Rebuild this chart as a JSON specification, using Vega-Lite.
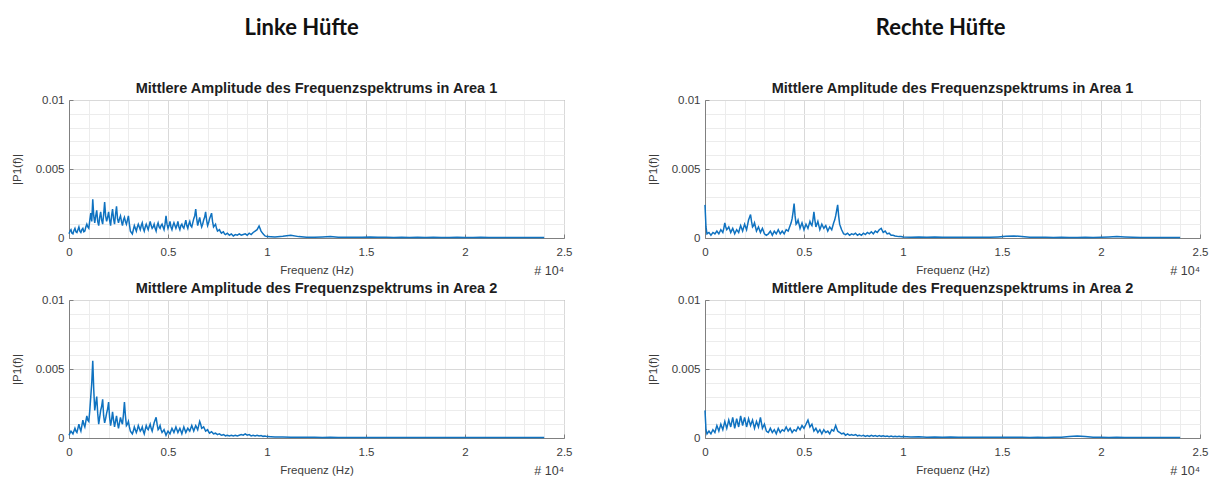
{
  "$schema": "https://vega.github.io/schema/vega-lite/v6.json",
  "background": "white",
  "padding": {"left": 10, "top": 17, "right": 0, "bottom": 0},
  "config": {
    "font": "Liberation Sans",
    "view": {"stroke": "#808080", "strokeWidth": 1},
    "axis": {
      "labelFont": "Liberation Sans", "labelFontSize": 11.5, "labelColor": "#3c3c3c",
      "titleFont": "Liberation Sans", "titleFontSize": 11.5, "titleColor": "#3c3c3c", "titleFontWeight": "normal",
      "domainColor": "#808080", "tickColor": "#808080", "labelOverlap": false, "labelFlush": false
    },
    "title": {"font": "Liberation Sans", "fontSize": 14.5, "fontWeight": "bold", "color": "#1e1e1e", "anchor": "middle", "frame": "group", "offset": -2}
  },
  "datasets": {
    "spec": [
      {"f":0.00,"l1":0.0003,"l2":0.0002,"r1":0.0024,"r2":0.0020},
      {"f":0.01,"l1":0.0006,"l2":0.0005,"r1":0.0003,"r2":0.0003},
      {"f":0.02,"l1":0.0003,"l2":0.0003,"r1":0.0004,"r2":0.0005},
      {"f":0.03,"l1":0.0007,"l2":0.0007,"r1":0.0002,"r2":0.0003},
      {"f":0.04,"l1":0.0004,"l2":0.0004,"r1":0.0004,"r2":0.0006},
      {"f":0.05,"l1":0.0008,"l2":0.0010,"r1":0.0003,"r2":0.0004},
      {"f":0.06,"l1":0.0004,"l2":0.0005,"r1":0.0005,"r2":0.0009},
      {"f":0.07,"l1":0.0007,"l2":0.0013,"r1":0.0003,"r2":0.0005},
      {"f":0.08,"l1":0.0005,"l2":0.0008,"r1":0.0006,"r2":0.0010},
      {"f":0.09,"l1":0.0010,"l2":0.0016,"r1":0.0004,"r2":0.0006},
      {"f":0.10,"l1":0.0007,"l2":0.0012,"r1":0.0011,"r2":0.0012},
      {"f":0.11,"l1":0.0018,"l2":0.0030,"r1":0.0006,"r2":0.0007},
      {"f":0.12,"l1":0.0028,"l2":0.0056,"r1":0.0008,"r2":0.0013},
      {"f":0.13,"l1":0.0011,"l2":0.0020,"r1":0.0004,"r2":0.0008},
      {"f":0.14,"l1":0.0020,"l2":0.0030,"r1":0.0007,"r2":0.0015},
      {"f":0.15,"l1":0.0009,"l2":0.0010,"r1":0.0003,"r2":0.0007},
      {"f":0.16,"l1":0.0019,"l2":0.0020,"r1":0.0006,"r2":0.0014},
      {"f":0.17,"l1":0.0010,"l2":0.0028,"r1":0.0004,"r2":0.0008},
      {"f":0.18,"l1":0.0026,"l2":0.0011,"r1":0.0009,"r2":0.0016},
      {"f":0.19,"l1":0.0012,"l2":0.0018,"r1":0.0005,"r2":0.0009},
      {"f":0.20,"l1":0.0019,"l2":0.0026,"r1":0.0010,"r2":0.0015},
      {"f":0.21,"l1":0.0009,"l2":0.0009,"r1":0.0006,"r2":0.0008},
      {"f":0.22,"l1":0.0021,"l2":0.0019,"r1":0.0013,"r2":0.0014},
      {"f":0.23,"l1":0.0010,"l2":0.0008,"r1":0.0017,"r2":0.0009},
      {"f":0.24,"l1":0.0023,"l2":0.0016,"r1":0.0008,"r2":0.0013},
      {"f":0.25,"l1":0.0011,"l2":0.0007,"r1":0.0011,"r2":0.0007},
      {"f":0.26,"l1":0.0016,"l2":0.0015,"r1":0.0005,"r2":0.0012},
      {"f":0.27,"l1":0.0009,"l2":0.0010,"r1":0.0008,"r2":0.0008},
      {"f":0.28,"l1":0.0015,"l2":0.0026,"r1":0.0004,"r2":0.0015},
      {"f":0.29,"l1":0.0010,"l2":0.0009,"r1":0.0007,"r2":0.0007},
      {"f":0.30,"l1":0.0016,"l2":0.0012,"r1":0.0003,"r2":0.0010},
      {"f":0.31,"l1":0.0005,"l2":0.0005,"r1":0.0002,"r2":0.0005},
      {"f":0.32,"l1":0.0003,"l2":0.0003,"r1":0.0003,"r2":0.0004},
      {"f":0.33,"l1":0.0009,"l2":0.0008,"r1":0.0005,"r2":0.0007},
      {"f":0.34,"l1":0.0005,"l2":0.0004,"r1":0.0002,"r2":0.0004},
      {"f":0.35,"l1":0.0010,"l2":0.0009,"r1":0.0005,"r2":0.0006},
      {"f":0.36,"l1":0.0006,"l2":0.0005,"r1":0.0003,"r2":0.0003},
      {"f":0.37,"l1":0.0011,"l2":0.0008,"r1":0.0006,"r2":0.0007},
      {"f":0.38,"l1":0.0005,"l2":0.0003,"r1":0.0003,"r2":0.0004},
      {"f":0.39,"l1":0.0010,"l2":0.0009,"r1":0.0005,"r2":0.0006},
      {"f":0.40,"l1":0.0006,"l2":0.0006,"r1":0.0003,"r2":0.0005},
      {"f":0.41,"l1":0.0012,"l2":0.0010,"r1":0.0006,"r2":0.0008},
      {"f":0.42,"l1":0.0007,"l2":0.0005,"r1":0.0005,"r2":0.0005},
      {"f":0.43,"l1":0.0010,"l2":0.0011,"r1":0.0009,"r2":0.0007},
      {"f":0.44,"l1":0.0005,"l2":0.0015,"r1":0.0014,"r2":0.0004},
      {"f":0.45,"l1":0.0011,"l2":0.0006,"r1":0.0025,"r2":0.0006},
      {"f":0.46,"l1":0.0007,"l2":0.0009,"r1":0.0010,"r2":0.0005},
      {"f":0.47,"l1":0.0010,"l2":0.0004,"r1":0.0013,"r2":0.0008},
      {"f":0.48,"l1":0.0006,"l2":0.0006,"r1":0.0007,"r2":0.0006},
      {"f":0.49,"l1":0.0016,"l2":0.0002,"r1":0.0011,"r2":0.0009},
      {"f":0.50,"l1":0.0007,"l2":0.0005,"r1":0.0006,"r2":0.0007},
      {"f":0.51,"l1":0.0012,"l2":0.0003,"r1":0.0010,"r2":0.0010},
      {"f":0.52,"l1":0.0006,"l2":0.0007,"r1":0.0007,"r2":0.0013},
      {"f":0.53,"l1":0.0011,"l2":0.0004,"r1":0.0012,"r2":0.0008},
      {"f":0.54,"l1":0.0007,"l2":0.0008,"r1":0.0009,"r2":0.0010},
      {"f":0.55,"l1":0.0012,"l2":0.0004,"r1":0.0019,"r2":0.0005},
      {"f":0.56,"l1":0.0006,"l2":0.0007,"r1":0.0008,"r2":0.0007},
      {"f":0.57,"l1":0.0010,"l2":0.0003,"r1":0.0012,"r2":0.0004},
      {"f":0.58,"l1":0.0007,"l2":0.0008,"r1":0.0006,"r2":0.0006},
      {"f":0.59,"l1":0.0013,"l2":0.0004,"r1":0.0010,"r2":0.0003},
      {"f":0.60,"l1":0.0007,"l2":0.0007,"r1":0.0007,"r2":0.0006},
      {"f":0.61,"l1":0.0012,"l2":0.0005,"r1":0.0009,"r2":0.0004},
      {"f":0.62,"l1":0.0008,"l2":0.0009,"r1":0.0005,"r2":0.0005},
      {"f":0.63,"l1":0.0014,"l2":0.0005,"r1":0.0008,"r2":0.0003},
      {"f":0.64,"l1":0.0021,"l2":0.0009,"r1":0.0006,"r2":0.0006},
      {"f":0.65,"l1":0.0009,"l2":0.0006,"r1":0.0011,"r2":0.0005},
      {"f":0.66,"l1":0.0015,"l2":0.0012,"r1":0.0016,"r2":0.0009},
      {"f":0.67,"l1":0.0008,"l2":0.0007,"r1":0.0024,"r2":0.0005},
      {"f":0.68,"l1":0.0013,"l2":0.0008,"r1":0.0010,"r2":0.0004},
      {"f":0.69,"l1":0.0019,"l2":0.0005,"r1":0.0006,"r2":0.0003},
      {"f":0.70,"l1":0.0009,"l2":0.0006,"r1":0.0003,"r2":0.00035},
      {"f":0.71,"l1":0.0014,"l2":0.00035,"r1":0.00025,"r2":0.0002},
      {"f":0.72,"l1":0.0018,"l2":0.00045,"r1":0.00035,"r2":0.0003},
      {"f":0.73,"l1":0.0008,"l2":0.0003,"r1":0.0002,"r2":0.0002},
      {"f":0.74,"l1":0.0010,"l2":0.00035,"r1":0.0003,"r2":0.00025},
      {"f":0.75,"l1":0.0005,"l2":0.00025,"r1":0.00025,"r2":0.0002},
      {"f":0.76,"l1":0.0006,"l2":0.0003,"r1":0.00035,"r2":0.00025},
      {"f":0.77,"l1":0.00035,"l2":0.0002,"r1":0.0002,"r2":0.00015},
      {"f":0.78,"l1":0.00045,"l2":0.00025,"r1":0.0003,"r2":0.0002},
      {"f":0.79,"l1":0.00025,"l2":0.00015,"r1":0.0002,"r2":0.00015},
      {"f":0.80,"l1":0.00035,"l2":0.0002,"r1":0.00035,"r2":0.0002},
      {"f":0.81,"l1":0.0002,"l2":0.00015,"r1":0.00025,"r2":0.00012},
      {"f":0.82,"l1":0.0003,"l2":0.0002,"r1":0.0004,"r2":0.00018},
      {"f":0.83,"l1":0.00015,"l2":0.00015,"r1":0.0003,"r2":0.00012},
      {"f":0.84,"l1":0.00025,"l2":0.0002,"r1":0.00045,"r2":0.0002},
      {"f":0.85,"l1":0.0002,"l2":0.00015,"r1":0.0003,"r2":0.00013},
      {"f":0.86,"l1":0.0003,"l2":0.0002,"r1":0.0005,"r2":0.00018},
      {"f":0.87,"l1":0.0002,"l2":0.00025,"r1":0.0004,"r2":0.00012},
      {"f":0.88,"l1":0.00025,"l2":0.0002,"r1":0.0006,"r2":0.00017},
      {"f":0.89,"l1":0.0003,"l2":0.0003,"r1":0.0007,"r2":0.00012},
      {"f":0.90,"l1":0.0002,"l2":0.0002,"r1":0.0004,"r2":0.00016},
      {"f":0.91,"l1":0.00035,"l2":0.00025,"r1":0.0005,"r2":0.00011},
      {"f":0.92,"l1":0.00025,"l2":0.00015,"r1":0.0003,"r2":0.00015},
      {"f":0.93,"l1":0.0004,"l2":0.0002,"r1":0.00035,"r2":0.0001},
      {"f":0.94,"l1":0.0005,"l2":0.00015,"r1":0.0002,"r2":0.00014},
      {"f":0.95,"l1":0.0006,"l2":0.0002,"r1":0.0002,"r2":0.0001},
      {"f":0.96,"l1":0.00087,"l2":0.00015,"r1":0.00015,"r2":0.00013},
      {"f":0.97,"l1":0.0005,"l2":0.00018,"r1":0.00012,"r2":0.00009},
      {"f":0.98,"l1":0.0003,"l2":0.00012,"r1":0.0001,"r2":0.00012},
      {"f":0.99,"l1":0.00015,"l2":0.00015,"r1":0.0001,"r2":0.00009},
      {"f":1.00,"l1":0.0001,"l2":0.0001,"r1":0.00008,"r2":0.0001},
      {"f":1.04,"l1":0.00008,"l2":0.00008,"r1":0.00006,"r2":0.00007},
      {"f":1.08,"l1":0.00012,"l2":0.00007,"r1":0.00008,"r2":0.00009},
      {"f":1.12,"l1":0.0002,"l2":0.00006,"r1":0.00006,"r2":0.00006},
      {"f":1.16,"l1":0.0001,"l2":0.00005,"r1":0.00007,"r2":0.00008},
      {"f":1.20,"l1":0.00006,"l2":0.00006,"r1":0.00005,"r2":0.00006},
      {"f":1.24,"l1":0.00005,"l2":0.00005,"r1":0.00006,"r2":0.00007},
      {"f":1.28,"l1":0.00007,"l2":0.00004,"r1":0.00005,"r2":0.00005},
      {"f":1.32,"l1":0.0001,"l2":0.00005,"r1":0.00006,"r2":0.00006},
      {"f":1.36,"l1":0.00006,"l2":0.00004,"r1":0.00005,"r2":0.00005},
      {"f":1.40,"l1":0.00005,"l2":0.00004,"r1":0.00006,"r2":0.00006},
      {"f":1.44,"l1":0.00006,"l2":0.00004,"r1":0.00005,"r2":0.00005},
      {"f":1.48,"l1":0.00005,"l2":0.00004,"r1":0.00008,"r2":0.00005},
      {"f":1.52,"l1":0.00007,"l2":0.00003,"r1":0.00012,"r2":0.00006},
      {"f":1.56,"l1":0.00005,"l2":0.00004,"r1":0.00015,"r2":0.00005},
      {"f":1.60,"l1":0.00005,"l2":0.00003,"r1":0.0001,"r2":0.00005},
      {"f":1.64,"l1":0.00004,"l2":0.00004,"r1":0.00006,"r2":0.00004},
      {"f":1.68,"l1":0.00005,"l2":0.00003,"r1":0.00005,"r2":0.00005},
      {"f":1.72,"l1":0.00004,"l2":0.00003,"r1":0.00005,"r2":0.00004},
      {"f":1.76,"l1":0.00005,"l2":0.00003,"r1":0.00004,"r2":0.00005},
      {"f":1.80,"l1":0.00004,"l2":0.00003,"r1":0.00005,"r2":0.00006},
      {"f":1.84,"l1":0.00005,"l2":0.00003,"r1":0.00004,"r2":0.0001},
      {"f":1.88,"l1":0.00004,"l2":0.00003,"r1":0.00004,"r2":0.00015},
      {"f":1.92,"l1":0.00004,"l2":0.00003,"r1":0.00005,"r2":0.0001},
      {"f":1.96,"l1":0.00005,"l2":0.00003,"r1":0.00004,"r2":0.00006},
      {"f":2.00,"l1":0.00004,"l2":0.00003,"r1":0.00005,"r2":0.00005},
      {"f":2.04,"l1":0.00004,"l2":0.00003,"r1":0.00007,"r2":0.00004},
      {"f":2.08,"l1":0.00005,"l2":0.00003,"r1":0.0001,"r2":0.00005},
      {"f":2.12,"l1":0.00004,"l2":0.00003,"r1":0.00007,"r2":0.00004},
      {"f":2.16,"l1":0.00004,"l2":0.00003,"r1":0.00005,"r2":0.00004},
      {"f":2.20,"l1":0.00004,"l2":0.00003,"r1":0.00004,"r2":0.00004},
      {"f":2.24,"l1":0.00003,"l2":0.00003,"r1":0.00004,"r2":0.00003},
      {"f":2.28,"l1":0.00004,"l2":0.00003,"r1":0.00004,"r2":0.00004},
      {"f":2.32,"l1":0.00003,"l2":0.00003,"r1":0.00003,"r2":0.00003},
      {"f":2.36,"l1":0.00003,"l2":0.00003,"r1":0.00004,"r2":0.00003},
      {"f":2.40,"l1":0.00003,"l2":0.00003,"r1":0.00003,"r2":0.00003},
      {"f":0.005,"l1":0.0005,"l2":0.00035,"r1":0.0008,"r2":0.0006},
      {"f":0.015,"l1":0.00035,"l2":0.0004,"r1":0.00035,"r2":0.0004},
      {"f":0.025,"l1":0.00055,"l2":0.0005,"r1":0.0003,"r2":0.0004},
      {"f":0.035,"l1":0.00045,"l2":0.0005,"r1":0.0003,"r2":0.00045},
      {"f":0.045,"l1":0.0006,"l2":0.0007,"r1":0.00035,"r2":0.0005},
      {"f":0.055,"l1":0.0005,"l2":0.0007,"r1":0.0004,"r2":0.00065},
      {"f":0.065,"l1":0.0006,"l2":0.0009,"r1":0.0004,"r2":0.0007},
      {"f":0.075,"l1":0.00045,"l2":0.0010,"r1":0.00045,"r2":0.00075},
      {"f":0.085,"l1":0.0008,"l2":0.0012,"r1":0.0005,"r2":0.0008},
      {"f":0.095,"l1":0.0008,"l2":0.0013,"r1":0.0007,"r2":0.0009},
      {"f":0.105,"l1":0.0013,"l2":0.0020,"r1":0.0008,"r2":0.00095},
      {"f":0.115,"l1":0.0012,"l2":0.0040,"r1":0.0007,"r2":0.0010},
      {"f":0.125,"l1":0.0016,"l2":0.0035,"r1":0.0006,"r2":0.00105},
      {"f":0.135,"l1":0.0016,"l2":0.0025,"r1":0.00055,"r2":0.00115},
      {"f":0.145,"l1":0.0012,"l2":0.0018,"r1":0.0005,"r2":0.0011},
      {"f":0.155,"l1":0.0015,"l2":0.0015,"r1":0.00045,"r2":0.00105},
      {"f":0.165,"l1":0.0013,"l2":0.0023,"r1":0.0005,"r2":0.0011},
      {"f":0.175,"l1":0.0017,"l2":0.0016,"r1":0.00065,"r2":0.0012},
      {"f":0.185,"l1":0.0016,"l2":0.0014,"r1":0.0007,"r2":0.00125},
      {"f":0.195,"l1":0.0015,"l2":0.0021,"r1":0.00075,"r2":0.0012},
      {"f":0.205,"l1":0.0013,"l2":0.0015,"r1":0.0008,"r2":0.00115},
      {"f":0.215,"l1":0.0016,"l2":0.0013,"r1":0.00095,"r2":0.0011},
      {"f":0.225,"l1":0.0014,"l2":0.0013,"r1":0.0015,"r2":0.00115},
      {"f":0.235,"l1":0.0017,"l2":0.0012,"r1":0.0012,"r2":0.0011},
      {"f":0.245,"l1":0.0014,"l2":0.0011,"r1":0.0009,"r2":0.0010},
      {"f":0.255,"l1":0.0014,"l2":0.0011,"r1":0.0008,"r2":0.00095},
      {"f":0.265,"l1":0.0012,"l2":0.0012,"r1":0.00065,"r2":0.0010},
      {"f":0.275,"l1":0.0013,"l2":0.0017,"r1":0.0006,"r2":0.00115},
      {"f":0.285,"l1":0.0012,"l2":0.0016,"r1":0.00055,"r2":0.0011},
      {"f":0.295,"l1":0.0013,"l2":0.0010,"r1":0.0005,"r2":0.00085},
      {"f":0.305,"l1":0.0010,"l2":0.0008,"r1":0.00025,"r2":0.00075},
      {"f":0.315,"l1":0.0004,"l2":0.0004,"r1":0.00025,"r2":0.00045},
      {"f":0.325,"l1":0.0006,"l2":0.0005,"r1":0.0004,"r2":0.00055},
      {"f":0.335,"l1":0.0007,"l2":0.0006,"r1":0.00035,"r2":0.00055},
      {"f":0.345,"l1":0.0008,"l2":0.0006,"r1":0.00035,"r2":0.0005},
      {"f":0.355,"l1":0.0008,"l2":0.0007,"r1":0.0004,"r2":0.00045},
      {"f":0.365,"l1":0.0009,"l2":0.0006,"r1":0.00045,"r2":0.0005},
      {"f":0.375,"l1":0.0007,"l2":0.0005,"r1":0.00045,"r2":0.00055},
      {"f":0.385,"l1":0.0008,"l2":0.0006,"r1":0.0004,"r2":0.0005},
      {"f":0.395,"l1":0.0008,"l2":0.0007,"r1":0.0004,"r2":0.00055},
      {"f":0.405,"l1":0.0009,"l2":0.0008,"r1":0.00045,"r2":0.00065},
      {"f":0.415,"l1":0.0009,"l2":0.0007,"r1":0.00055,"r2":0.00065},
      {"f":0.425,"l1":0.0008,"l2":0.0008,"r1":0.0007,"r2":0.0006},
      {"f":0.435,"l1":0.0007,"l2":0.0013,"r1":0.0011,"r2":0.00055},
      {"f":0.445,"l1":0.0009,"l2":0.0010,"r1":0.0019,"r2":0.0005},
      {"f":0.455,"l1":0.0008,"l2":0.0007,"r1":0.0016,"r2":0.00055},
      {"f":0.465,"l1":0.0009,"l2":0.0006,"r1":0.0011,"r2":0.00065},
      {"f":0.475,"l1":0.0008,"l2":0.0005,"r1":0.0010,"r2":0.0007},
      {"f":0.485,"l1":0.0010,"l2":0.0004,"r1":0.0009,"r2":0.00075},
      {"f":0.495,"l1":0.0010,"l2":0.00035,"r1":0.00085,"r2":0.0008},
      {"f":0.505,"l1":0.0009,"l2":0.0004,"r1":0.0008,"r2":0.00085},
      {"f":0.515,"l1":0.0008,"l2":0.0005,"r1":0.00085,"r2":0.00115},
      {"f":0.525,"l1":0.0009,"l2":0.00055,"r1":0.00095,"r2":0.00105},
      {"f":0.535,"l1":0.0009,"l2":0.0006,"r1":0.0010,"r2":0.0009},
      {"f":0.545,"l1":0.0009,"l2":0.0006,"r1":0.0013,"r2":0.00075},
      {"f":0.555,"l1":0.0008,"l2":0.00055,"r1":0.0013,"r2":0.0006},
      {"f":0.565,"l1":0.0009,"l2":0.0005,"r1":0.0010,"r2":0.00055},
      {"f":0.575,"l1":0.0008,"l2":0.00055,"r1":0.0009,"r2":0.0005},
      {"f":0.585,"l1":0.0010,"l2":0.0006,"r1":0.0008,"r2":0.00045},
      {"f":0.595,"l1":0.0009,"l2":0.00055,"r1":0.00085,"r2":0.00045},
      {"f":0.605,"l1":0.0010,"l2":0.0006,"r1":0.0008,"r2":0.0005},
      {"f":0.615,"l1":0.0009,"l2":0.0007,"r1":0.0007,"r2":0.00045},
      {"f":0.625,"l1":0.0011,"l2":0.0007,"r1":0.00065,"r2":0.0004},
      {"f":0.635,"l1":0.0016,"l2":0.0007,"r1":0.0007,"r2":0.00045},
      {"f":0.645,"l1":0.0014,"l2":0.00075,"r1":0.00085,"r2":0.00055},
      {"f":0.655,"l1":0.0012,"l2":0.0009,"r1":0.0013,"r2":0.0007},
      {"f":0.665,"l1":0.0011,"l2":0.0010,"r1":0.0020,"r2":0.0007},
      {"f":0.675,"l1":0.0010,"l2":0.00075,"r1":0.0016,"r2":0.00045},
      {"f":0.685,"l1":0.0015,"l2":0.00065,"r1":0.0008,"r2":0.00035},
      {"f":0.695,"l1":0.0013,"l2":0.00055,"r1":0.00045,"r2":0.00033},
      {"f":0.705,"l1":0.0011,"l2":0.00045,"r1":0.00028,"r2":0.00028},
      {"f":0.715,"l1":0.0016,"l2":0.0004,"r1":0.0003,"r2":0.00025},
      {"f":0.725,"l1":0.0012,"l2":0.00038,"r1":0.00027,"r2":0.00025},
      {"f":0.735,"l1":0.0009,"l2":0.00033,"r1":0.00025,"r2":0.00022},
      {"f":0.745,"l1":0.0007,"l2":0.0003,"r1":0.00028,"r2":0.00022},
      {"f":0.755,"l1":0.00055,"l2":0.00028,"r1":0.0003,"r2":0.00022},
      {"f":0.765,"l1":0.00045,"l2":0.00025,"r1":0.00027,"r2":0.0002},
      {"f":0.775,"l1":0.0004,"l2":0.00022,"r1":0.00025,"r2":0.00018},
      {"f":0.785,"l1":0.0003,"l2":0.0002,"r1":0.00025,"r2":0.00017},
      {"f":0.795,"l1":0.0003,"l2":0.00018,"r1":0.00027,"r2":0.00017}
    ],
    "exp": [{"label": "# 10⁴"}]
  },
  "spacing": 73,
  "hconcat": [
    {
      "title": {"text": "Linke Hüfte", "font": "Lato", "fontSize": 22, "fontWeight": "bold", "color": "#111111", "anchor": "middle", "frame": "bounds", "offset": 40, "dx": 10},
      "spacing": 2,
      "vconcat": [
        {
          "width": 495, "height": 138,
          "title": {"text": "Mittlere Amplitude des Frequenzspektrums in Area 1"},
          "resolve": {"axis": {"x": "independent", "y": "independent"}},
          "layer": [
            {
              "data": {"name": "spec"},
              "mark": {"type": "line", "color": "#0f72c0", "strokeWidth": 1.5},
              "encoding": {
                "x": {"field": "f", "type": "quantitative", "scale": {"domain": [0, 2.5], "nice": false},
                      "axis": {"orient": "top", "values": [0.1,0.2,0.3,0.4,0.6,0.7,0.8,0.9,1.1,1.2,1.3,1.4,1.6,1.7,1.8,1.9,2.1,2.2,2.3,2.4], "grid": true, "gridColor": "#ececec", "labels": false, "ticks": false, "domain": false, "title": null}},
                "y": {"field": "l1", "type": "quantitative", "scale": {"domain": [0, 0.01], "nice": false},
                      "axis": {"orient": "right", "values": [0.001,0.002,0.003,0.004,0.006,0.007,0.008,0.009], "grid": true, "gridColor": "#ececec", "labels": false, "ticks": false, "domain": false, "title": null}}
              }
            },
            {
              "data": {"name": "exp"},
              "mark": {"type": "text", "align": "right", "baseline": "alphabetic", "dx": 0, "dy": 36.5, "fontSize": 12.5, "color": "#3c3c3c", "font": "Liberation Sans"},
              "encoding": {
                "x": {"datum": 2.5, "type": "quantitative",
                      "axis": {"orient": "bottom", "values": [0,0.5,1,1.5,2,2.5], "format": "~g", "grid": true, "gridColor": "#d9d9d9", "tickSize": -4, "labelPadding": 12.5, "title": "Frequenz (Hz)", "titlePadding": 6}},
                "y": {"datum": 0, "type": "quantitative",
                      "axis": {"orient": "left", "values": [0,0.005,0.01], "format": "~g", "grid": true, "gridColor": "#d9d9d9", "tickSize": -4, "labelPadding": 9, "title": "|P1(f)|", "titlePadding": 13}},
                "text": {"field": "label"}
              }
            }
          ]
        },
        {
          "width": 495, "height": 138,
          "title": {"text": "Mittlere Amplitude des Frequenzspektrums in Area 2"},
          "resolve": {"axis": {"x": "independent", "y": "independent"}},
          "layer": [
            {
              "data": {"name": "spec"},
              "mark": {"type": "line", "color": "#0f72c0", "strokeWidth": 1.5},
              "encoding": {
                "x": {"field": "f", "type": "quantitative", "scale": {"domain": [0, 2.5], "nice": false},
                      "axis": {"orient": "top", "values": [0.1,0.2,0.3,0.4,0.6,0.7,0.8,0.9,1.1,1.2,1.3,1.4,1.6,1.7,1.8,1.9,2.1,2.2,2.3,2.4], "grid": true, "gridColor": "#ececec", "labels": false, "ticks": false, "domain": false, "title": null}},
                "y": {"field": "l2", "type": "quantitative", "scale": {"domain": [0, 0.01], "nice": false},
                      "axis": {"orient": "right", "values": [0.001,0.002,0.003,0.004,0.006,0.007,0.008,0.009], "grid": true, "gridColor": "#ececec", "labels": false, "ticks": false, "domain": false, "title": null}}
              }
            },
            {
              "data": {"name": "exp"},
              "mark": {"type": "text", "align": "right", "baseline": "alphabetic", "dx": 0, "dy": 36.5, "fontSize": 12.5, "color": "#3c3c3c", "font": "Liberation Sans"},
              "encoding": {
                "x": {"datum": 2.5, "type": "quantitative",
                      "axis": {"orient": "bottom", "values": [0,0.5,1,1.5,2,2.5], "format": "~g", "grid": true, "gridColor": "#d9d9d9", "tickSize": -4, "labelPadding": 12.5, "title": "Frequenz (Hz)", "titlePadding": 6}},
                "y": {"datum": 0, "type": "quantitative",
                      "axis": {"orient": "left", "values": [0,0.005,0.01], "format": "~g", "grid": true, "gridColor": "#d9d9d9", "tickSize": -4, "labelPadding": 9, "title": "|P1(f)|", "titlePadding": 13}},
                "text": {"field": "label"}
              }
            }
          ]
        }
      ]
    },
    {
      "title": {"text": "Rechte Hüfte", "font": "Lato", "fontSize": 22, "fontWeight": "bold", "color": "#111111", "anchor": "middle", "frame": "bounds", "offset": 40, "dx": 13},
      "spacing": 2,
      "vconcat": [
        {
          "width": 495, "height": 138,
          "title": {"text": "Mittlere Amplitude des Frequenzspektrums in Area 1"},
          "resolve": {"axis": {"x": "independent", "y": "independent"}},
          "layer": [
            {
              "data": {"name": "spec"},
              "mark": {"type": "line", "color": "#0f72c0", "strokeWidth": 1.5},
              "encoding": {
                "x": {"field": "f", "type": "quantitative", "scale": {"domain": [0, 2.5], "nice": false},
                      "axis": {"orient": "top", "values": [0.1,0.2,0.3,0.4,0.6,0.7,0.8,0.9,1.1,1.2,1.3,1.4,1.6,1.7,1.8,1.9,2.1,2.2,2.3,2.4], "grid": true, "gridColor": "#ececec", "labels": false, "ticks": false, "domain": false, "title": null}},
                "y": {"field": "r1", "type": "quantitative", "scale": {"domain": [0, 0.01], "nice": false},
                      "axis": {"orient": "right", "values": [0.001,0.002,0.003,0.004,0.006,0.007,0.008,0.009], "grid": true, "gridColor": "#ececec", "labels": false, "ticks": false, "domain": false, "title": null}}
              }
            },
            {
              "data": {"name": "exp"},
              "mark": {"type": "text", "align": "right", "baseline": "alphabetic", "dx": 0, "dy": 36.5, "fontSize": 12.5, "color": "#3c3c3c", "font": "Liberation Sans"},
              "encoding": {
                "x": {"datum": 2.5, "type": "quantitative",
                      "axis": {"orient": "bottom", "values": [0,0.5,1,1.5,2,2.5], "format": "~g", "grid": true, "gridColor": "#d9d9d9", "tickSize": -4, "labelPadding": 12.5, "title": "Frequenz (Hz)", "titlePadding": 6}},
                "y": {"datum": 0, "type": "quantitative",
                      "axis": {"orient": "left", "values": [0,0.005,0.01], "format": "~g", "grid": true, "gridColor": "#d9d9d9", "tickSize": -4, "labelPadding": 9, "title": "|P1(f)|", "titlePadding": 13}},
                "text": {"field": "label"}
              }
            }
          ]
        },
        {
          "width": 495, "height": 138,
          "title": {"text": "Mittlere Amplitude des Frequenzspektrums in Area 2"},
          "resolve": {"axis": {"x": "independent", "y": "independent"}},
          "layer": [
            {
              "data": {"name": "spec"},
              "mark": {"type": "line", "color": "#0f72c0", "strokeWidth": 1.5},
              "encoding": {
                "x": {"field": "f", "type": "quantitative", "scale": {"domain": [0, 2.5], "nice": false},
                      "axis": {"orient": "top", "values": [0.1,0.2,0.3,0.4,0.6,0.7,0.8,0.9,1.1,1.2,1.3,1.4,1.6,1.7,1.8,1.9,2.1,2.2,2.3,2.4], "grid": true, "gridColor": "#ececec", "labels": false, "ticks": false, "domain": false, "title": null}},
                "y": {"field": "r2", "type": "quantitative", "scale": {"domain": [0, 0.01], "nice": false},
                      "axis": {"orient": "right", "values": [0.001,0.002,0.003,0.004,0.006,0.007,0.008,0.009], "grid": true, "gridColor": "#ececec", "labels": false, "ticks": false, "domain": false, "title": null}}
              }
            },
            {
              "data": {"name": "exp"},
              "mark": {"type": "text", "align": "right", "baseline": "alphabetic", "dx": 0, "dy": 36.5, "fontSize": 12.5, "color": "#3c3c3c", "font": "Liberation Sans"},
              "encoding": {
                "x": {"datum": 2.5, "type": "quantitative",
                      "axis": {"orient": "bottom", "values": [0,0.5,1,1.5,2,2.5], "format": "~g", "grid": true, "gridColor": "#d9d9d9", "tickSize": -4, "labelPadding": 12.5, "title": "Frequenz (Hz)", "titlePadding": 6}},
                "y": {"datum": 0, "type": "quantitative",
                      "axis": {"orient": "left", "values": [0,0.005,0.01], "format": "~g", "grid": true, "gridColor": "#d9d9d9", "tickSize": -4, "labelPadding": 9, "title": "|P1(f)|", "titlePadding": 13}},
                "text": {"field": "label"}
              }
            }
          ]
        }
      ]
    }
  ]
}
